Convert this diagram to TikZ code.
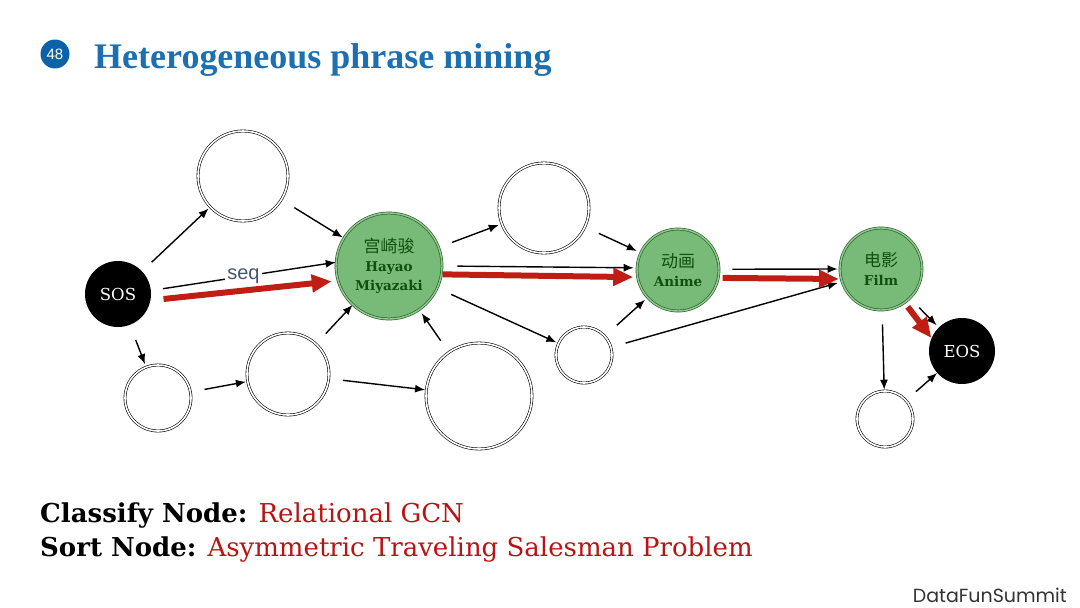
\documentclass[tikz,border=0pt]{standalone}
\usepackage{fontspec}
\setmainfont{Liberation Serif}
\newfontfamily\cjk{Noto Sans CJK SC}
\newfontfamily\slab{DejaVu Serif}
\newfontfamily\sansf{Liberation Sans}
\newfontfamily\brand{Poppins}
\usetikzlibrary{arrows.meta}

\definecolor{titleblue}{RGB}{28,112,178}
\definecolor{badge}{RGB}{12,98,170}
\definecolor{nodegreen}{RGB}{120,186,120}
\definecolor{nodeedge}{RGB}{45,100,45}
\definecolor{textgreen}{RGB}{15,80,15}
\definecolor{arrowred}{RGB}{192,30,20}
\definecolor{textred}{RGB}{185,20,20}
\definecolor{seqcol}{RGB}{70,85,110}

\begin{document}
\begin{tikzpicture}[x=1pt,y=-1pt,
  plain/.style={circle, draw=black, double=white, double distance=1.6pt, line width=0.6pt, inner sep=0pt},
  greennode/.style={circle, draw=nodeedge, double=nodegreen!80!white, double distance=1.4pt, line width=0.7pt, fill=nodegreen, inner sep=0pt, align=center, text=textgreen, font=\slab\bfseries\fontsize{13.5}{19}\selectfont},
  blacknode/.style={circle, fill=black, inner sep=0pt, text=white, font=\slab\fontsize{16.5}{16.5}\selectfont},
  arr/.style={-{Latex[length=10pt,width=8pt]}, line width=1.4pt},
  redarrow/.style={-{Triangle[length=20pt,width=17pt]}, line width=6pt, draw=arrowred},
  seqlabel/.style={fill=white, inner sep=2pt, text=seqcol, font=\sansf\fontsize{20}{20}\selectfont}
]
\useasboundingbox (0,0) rectangle (1080,608);
\fill[white] (0,0) rectangle (1080,608);

% title
\node[circle, fill=badge, minimum size=29pt, inner sep=0pt, text=white, font=\sansf\fontsize{15}{15}\selectfont] (badge) at (55,54) {48};
\node[anchor=base west, inner sep=0pt, text=titleblue, font=\bfseries\fontsize{36}{40}\selectfont] (title) at (94,68) {Heterogeneous phrase mining};

% nodes
\node[blacknode, minimum size=66pt] (sos) at (118,294) {SOS};
\node[plain, minimum size=90pt] (A) at (243,176) {};
\node[greennode, minimum size=106pt] (hay) at (389,266) {{\cjk\mdseries\fontsize{17}{19}\selectfont 宫崎骏}\\Hayao\\Miyazaki};
\node[plain, minimum size=66pt] (B) at (158,398) {};
\node[plain, minimum size=82pt] (C) at (288,374) {};
\node[plain, minimum size=106pt] (D) at (479,396) {};
\node[plain, minimum size=90pt] (E) at (544,208) {};
\node[plain, minimum size=56pt] (F) at (584,355) {};
\node[greennode, minimum size=82pt] (ani) at (678,270) {{\cjk\mdseries\fontsize{17}{19}\selectfont 动画}\\Anime};
\node[greennode, minimum size=82pt] (film) at (881,269) {{\cjk\mdseries\fontsize{17}{19}\selectfont 电影}\\Film};
\node[blacknode, minimum size=66pt] (eos) at (962,351) {EOS};
\node[plain, minimum size=56pt] (G) at (885,419) {};

% black connectors
\draw[arr, shorten <=13pt, shorten >=2pt] (sos) -- (A);
\draw[arr, shorten <=15pt, shorten >=1pt] (A) -- (hay);
\draw[arr, shorten <=12pt] (sos.6) -- node[seqlabel] (seq) {seq} (hay.176);
\draw[arr, shorten <=16pt, shorten >=3pt] (sos) -- (B);
\draw[arr, shorten <=14pt, shorten >=1.5pt] (B) -- (C);
\draw[arr, shorten <=14pt] (C) -- (hay);
\draw[arr, shorten <=14pt, shorten >=1pt] (C) -- (D);
\draw[arr, shorten <=14pt, shorten >=4pt] (D) -- (hay);
\draw[arr, shorten <=14pt, shorten >=3pt] (hay) -- (E);
\draw[arr, shorten <=15pt, shorten >=4pt] (E) -- (ani);
\draw[arr, shorten <=15pt, shorten >=3pt] (hay.0) -- (ani.177);
\draw[arr, shorten <=15pt, shorten >=2pt] (hay) -- (F);
\draw[arr, shorten <=16pt, shorten >=3pt] (F) -- (ani);
\draw[arr, shorten <=15pt, shorten >=4pt] (F.16) -- (film.198);
\draw[arr, shorten <=13pt, shorten >=2pt] (ani.1) -- (film.180);
\draw[arr, shorten <=13pt, shorten >=3pt] (film) -- (eos);
\draw[arr, shorten <=14pt, shorten >=1pt] (film) -- (G);
\draw[arr, shorten <=13pt] (G) -- (eos);

% red path
\draw[redarrow, shorten <=13pt, shorten >=6pt] (sos.-11) -- (hay.196);
\draw[redarrow, shorten <=1pt, shorten >=4pt] (hay.-9.5) -- (ani.190);
\draw[redarrow, shorten <=4pt, shorten >=2pt] (ani.-11) -- (film.194);
\draw[redarrow, shorten <=5pt] (film.-55) -- (eos.157);

% bottom text
\node[anchor=base west, inner sep=0pt, font=\slab\fontsize{26}{30}\selectfont] (cls) at (40,522) {\textbf{Classify Node:} \textcolor{textred}{Relational GCN}};
\node[anchor=base west, inner sep=0pt, font=\slab\fontsize{26}{30}\selectfont] (srt) at (40,556) {\textbf{Sort Node:} \textcolor{textred}{Asymmetric Traveling Salesman Problem}};

\node[anchor=base east, inner sep=0pt, text=black!80, font=\brand\fontsize{19}{19}\selectfont] (brand) at (1067,602) {DataFunSummit};
\end{tikzpicture}
\end{document}
